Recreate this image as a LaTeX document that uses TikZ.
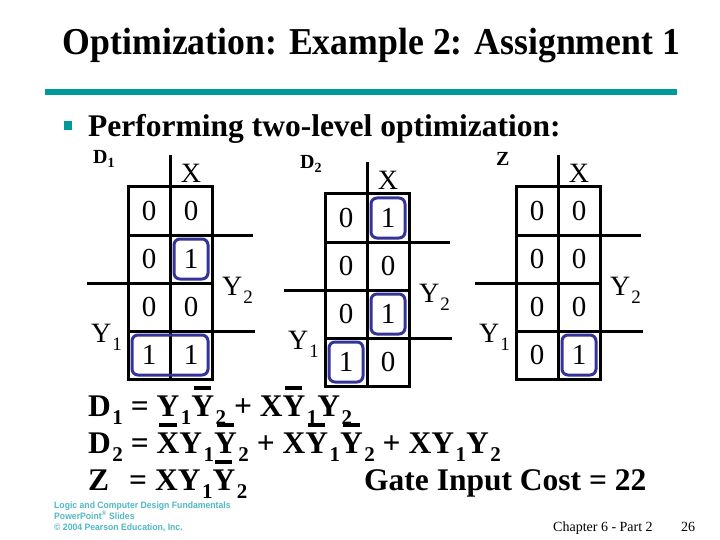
\documentclass[tikz,border=0pt]{standalone}
\usepackage{fontspec}
\setmainfont{Liberation Serif}
\newfontfamily\footfont{Liberation Sans}
\definecolor{tealbar}{RGB}{0,153,153}
\definecolor{loopblue}{RGB}{51,51,153}
\definecolor{footteal}{RGB}{80,185,195}
\newcommand\fs[1]{\fontsize{#1}{#1}\selectfont}
\newcommand\bsub[1]{\kern1.5pt\raisebox{-8pt}{\fs{21}#1}}
\newcommand\nb[1]{\setbox0\hbox{#1}\leavevmode\rlap{\hbox to \wd0{\hss\raise\dimexpr\ht0+5pt\relax\hbox{\vrule width .75\wd0 height 4pt depth 0pt}\hss}}\box0}
\newcommand\kloopcell[3]{\draw[kloop] ({42*(#2-1)+4},{48*(#1-1)+4}) rectangle ({42*#3-4},{48*#1-4});}
\newcommand\kmapdraw[4]{%
\begin{scope}[shift={(#2,#3)}]
\draw[gridl] (0,0) rectangle (84,192);
\draw[gridl] (42,-32) -- (42,192);
\draw[gridl] (0,48) -- (125,48);
\draw[gridl] (-41,96) -- (84,96);
\draw[gridl] (0,144) -- (127,144);
\foreach \a/\b [count=\r] in {#4} {
  \node[cell] (#1-\r-1) at (21,{48*\r-24}) {\a};
  \node[cell] (#1-\r-2) at (63,{48*\r-24}) {\b};
}
\node[axis,anchor=base] (#1-x) at (63,-4) {X};
\node[axis] (#1-y2) at (94,108) {Y\kern1pt\raisebox{-8pt}{\fs{19}2}};
\node[axis] (#1-y1) at (-37,155) {Y\kern1pt\raisebox{-8pt}{\fs{19}1}};
\end{scope}}
\begin{document}
\begin{tikzpicture}[x=1pt,y=-1pt,
  gridl/.style={line width=3pt},
  kloop/.style={draw=loopblue,line width=3pt,rounded corners=6pt},
  cell/.style={font=\fs{29},inner sep=0pt},
  axis/.style={font=\fs{28},inner sep=0pt,anchor=base west},
  maplab/.style={font=\fs{20}\bfseries,inner sep=0pt,anchor=base west},
  eq/.style={font=\fs{31.5}\bfseries,inner sep=0pt,anchor=base west},
  foot/.style={font=\footfont\bfseries\fs{9.3},text=footteal,inner sep=0pt,anchor=base west},
  chap/.style={font=\fs{14},inner sep=0pt,anchor=base west}]
\useasboundingbox (0,0) rectangle (720,540);
\fill[white] (0,0) rectangle (720,540);
% title
\node[font=\fs{38}\bfseries,anchor=base,inner sep=0pt] (title) at (371.5,55) {\scalebox{0.94}[1]{Optimization: Example 2: Assignment 1}};
\fill[tealbar] (45,89) rectangle (677,95);
\fill[tealbar] (64,121) rectangle (72,130);
\node[eq] (head) at (88,137) {Performing two-level optimization:};
% map labels
\node[maplab] (d1lab) at (93,164) {D\raisebox{-4pt}{\fs{14}1}};
\node[maplab] (d2lab) at (300,169) {D\raisebox{-4pt}{\fs{14}2}};
\node[maplab] (zlab) at (496,166) {Z};
% maps
\kmapdraw{m1}{128}{187}{0/0,0/1,0/0,1/1}
\begin{scope}[shift={(128,187)}]
\kloopcell{2}{2}{2}
\kloopcell{4}{1}{2}
\end{scope}
\kmapdraw{m2}{325}{194}{0/1,0/0,0/1,1/0}
\begin{scope}[shift={(325,194)}]
\kloopcell{1}{2}{2}
\kloopcell{3}{2}{2}
\kloopcell{4}{1}{1}
\end{scope}
\kmapdraw{m3}{516}{187}{0/0,0/0,0/0,0/1}
\begin{scope}[shift={(516,187)}]
\kloopcell{4}{2}{2}
\end{scope}
% equations
\node[eq] (eq1) at (88,416) {D\bsub{1} = Y\bsub{1}\nb{Y}\bsub{2} + X\nb{Y}\bsub{1}Y\bsub{2}};
\node[eq] (eq2) at (88,453) {D\bsub{2} = \nb{X}Y\bsub{1}\nb{Y}\bsub{2} + X\nb{Y}\bsub{1}\nb{Y}\bsub{2} + XY\bsub{1}Y\bsub{2}};
\node[eq] (eq3) at (88,490) {Z\hspace{20pt}= XY\bsub{1}\nb{Y}\bsub{2}};
\node[eq] (cost) at (364,490) {Gate Input Cost = 22};
% footer
\node[foot] (f1) at (54,508) {\scalebox{0.93}[1]{Logic and Computer Design Fundamentals}};
\node[foot] (f2) at (54,519) {\scalebox{0.93}[1]{PowerPoint\textsuperscript{\textregistered} Slides}};
\node[foot] (f3) at (54,530) {\scalebox{0.93}[1]{\textcopyright{} 2004 Pearson Education, Inc.}};
\node[chap] (chapter) at (553,531) {Chapter 6 - Part 2};
\node[chap] (page) at (681,531) {26};
\end{tikzpicture}
\end{document}
